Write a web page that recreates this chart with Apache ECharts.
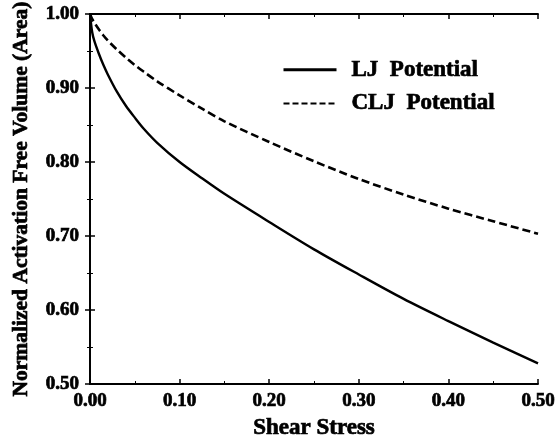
<!DOCTYPE html>
<html>
<head>
<meta charset="utf-8">
<title>Normalized Activation Free Volume</title>
<script src="https://cdn.jsdelivr.net/npm/echarts@6/dist/echarts.min.js"></script>
<style>
    html, body { margin: 0; padding: 0; background: #fff; }
    #main { width: 558px; height: 445px; }
</style>
</head>
<body>
<div id="main"></div>
<script>
'use strict';

// shear stress sample points
var shearStress = [0, 0.0025, 0.005, 0.01, 0.015, 0.02, 0.03, 0.04, 0.05, 0.06, 0.075,
    0.10, 0.125, 0.15, 0.20, 0.25, 0.30, 0.35, 0.40, 0.45, 0.50];
// LJ potential, solid line
var ljValues = [1.000, 0.975, 0.963, 0.946, 0.931, 0.918, 0.895, 0.876, 0.860, 0.845, 0.826,
    0.800, 0.778, 0.757, 0.719, 0.682, 0.648, 0.615, 0.585, 0.556, 0.528];
// CLJ potential, dashed line
var cljValues = [1.000, 0.993, 0.988, 0.979, 0.971, 0.964, 0.952, 0.941, 0.931, 0.922, 0.909,
    0.890, 0.872, 0.855, 0.827, 0.801, 0.777, 0.756, 0.737, 0.720, 0.703];
var seriesNames = ['LJ  Potential', 'CLJ  Potential'];
var xTicks = [0, 0.1, 0.2, 0.3, 0.4, 0.5];
var yTicks = [0.5, 0.6, 0.7, 0.8, 0.9, 1.0];

var fontFamily = '"Liberation Serif", "Times New Roman", serif';

//把两个数组拼成 [x, y] 点
function toPoints(xs, ys) {
    var pts = [];
    for (var i = 0; i < xs.length; i++) {
        pts.push([xs[i], ys[i]]);
    }
    return pts;
}

function fmt(v) {
    return v.toFixed(2);
}

// bold serif text, a bit heavier like the scanned figure
function boldText(size) {
    return {
        color: '#000',
        fontFamily: fontFamily,
        fontWeight: 'bold',
        fontSize: size,
        textBorderColor: '#000',
        textBorderWidth: 0.7
    };
}

var tickStyle = { show: true, inside: true, length: 5, lineStyle: { color: '#000', width: 1.5 } };
var minorTickStyle = { show: true, splitNumber: 2, length: 3, lineStyle: { color: '#000', width: 1 } };
var lineStyle = { show: true, lineStyle: { color: '#000', width: 1.8 } };

function valueAxis(extra) {
    var base = {
        type: 'value',
        axisLine: lineStyle,
        axisTick: tickStyle,
        minorTick: minorTickStyle,
        splitLine: { show: false },
        axisLabel: { show: false }
    };
    return Object.assign(base, extra);
}

var myChart = echarts.init(document.getElementById('main'), null, { renderer: 'canvas' });

var legendText = boldText(23);
legendText.padding = [0, 0, 0, 10];
// 图例只画线，不画点
var noSymbol = { color: 'rgba(0,0,0,0)', borderWidth: 0 };

var option = {
    backgroundColor: '#fff',
    animation: false,
    color: ['#000', '#000'],
    grid: { left: 90, right: 18, top: 14, bottom: 55 },
    legend: {
        orient: 'vertical',
        left: 277,
        top: 53,
        itemWidth: 53,
        itemHeight: 14,
        itemGap: 10,
        textStyle: legendText,
        data: [
            { name: seriesNames[0], itemStyle: noSymbol, lineStyle: { color: '#000', width: 3, type: 'solid' } },
            { name: seriesNames[1], itemStyle: noSymbol, lineStyle: { color: '#000', width: 2, type: [6, 3] } }
        ]
    },
    xAxis: [
        valueAxis({
            position: 'bottom',
            min: xTicks[0],
            max: xTicks[xTicks.length - 1],
            interval: 0.1,
            name: 'Shear Stress',
            nameLocation: 'middle',
            nameGap: 26,
            nameTextStyle: boldText(23),
            axisLabel: Object.assign({ show: true, margin: 8, formatter: fmt }, boldText(19))
        }),
        valueAxis({ position: 'top', min: 0, max: 0.5, interval: 0.1 })
    ],
    yAxis: [
        valueAxis({
            position: 'left',
            min: yTicks[0],
            max: yTicks[yTicks.length - 1],
            interval: 0.1,
            name: 'Normalized Activation Free Volume (Area)',
            nameLocation: 'middle',
            nameGap: 58,
            nameTextStyle: boldText(21.5),
            axisLabel: Object.assign({ show: true, margin: 11, formatter: fmt }, boldText(19))
        }),
        valueAxis({ position: 'right', min: 0.5, max: 1.0, interval: 0.1 })
    ],
    series: [
        {
            name: seriesNames[0],
            type: 'line',
            smooth: 0.3,
            symbol: 'none',
            clip: true,
            itemStyle: { color: '#000' },
            lineStyle: { color: '#000', width: 2.4, type: 'solid' },
            data: toPoints(shearStress, ljValues)
        },
        {
            name: seriesNames[1],
            type: 'line',
            smooth: 0.3,
            symbol: 'none',
            clip: true,
            itemStyle: { color: '#000' },
            lineStyle: { color: '#000', width: 2.6, type: [8, 4] },
            data: toPoints(shearStress, cljValues)
        }
    ]
};

myChart.setOption(option);
</script>
</body>
</html>
